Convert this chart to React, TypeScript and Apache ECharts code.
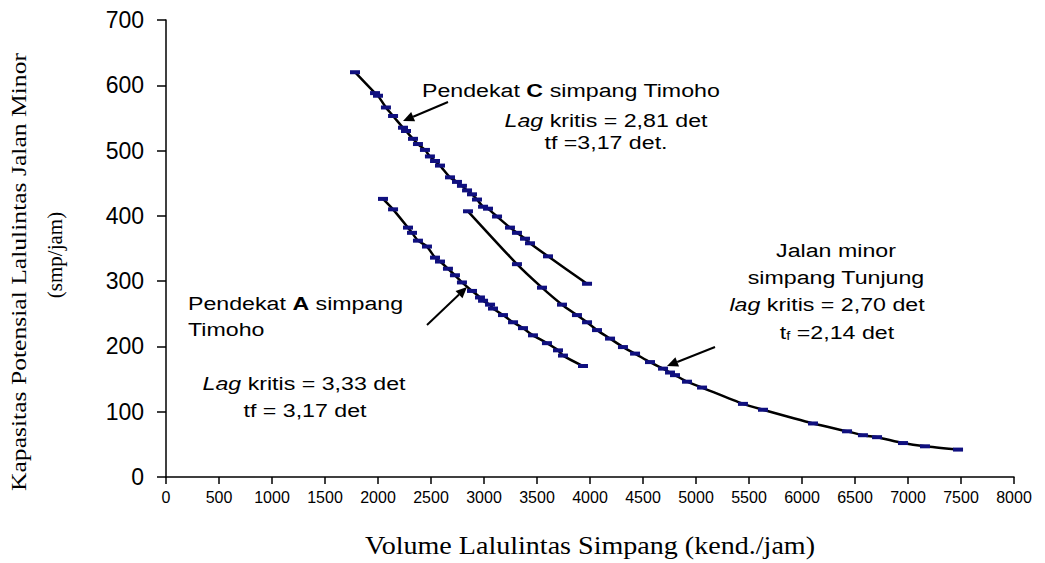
import React, { useEffect, useRef } from "react";
import * as echarts from "echarts";

// Pendekat C simpang Timoho
const cVolume = [1783, 1972, 2000, 2075, 2142, 2236, 2264, 2330, 2377, 2443, 2490, 2538, 2585, 2679, 2745, 2792, 2840, 2887, 2934, 2991, 3038, 3123, 3245, 3311, 3387, 3434, 3604, 3972];
const cCapacity = [620, 588, 584, 566, 553, 535, 530, 518, 510, 501, 491, 484, 477, 459, 452, 446, 439, 433, 425, 414, 411, 399, 382, 374, 365, 358, 338, 296];

// Pendekat A simpang Timoho
const aVolume = [2047, 2142, 2283, 2321, 2377, 2462, 2538, 2585, 2660, 2726, 2792, 2887, 2962, 2991, 3057, 3085, 3179, 3274, 3368, 3462, 3594, 3698, 3745, 3934];
const aCapacity = [426, 410, 382, 374, 362, 353, 336, 330, 319, 309, 298, 285, 275, 270, 264, 258, 248, 237, 228, 217, 205, 194, 186, 170];

// Jalan minor simpang Tunjung
const tVolume = [2849, 3311, 3547, 3736, 3877, 3972, 4066, 4189, 4311, 4425, 4566, 4689, 4755, 4802, 4915, 5057, 5443, 5632, 6104, 6425, 6575, 6708, 6953, 7160, 7472];
const tCapacity = [407, 326, 290, 264, 248, 237, 225, 212, 199, 189, 176, 166, 160, 156, 146, 137, 112, 103, 82, 70, 64, 61, 52, 47, 42];

const xMin = 0, xMax = 8000, xStep = 500;
const yMin = 0, yMax = 700, yStep = 100;

const xTitle = "Volume Lalulintas Simpang (kend./jam)";
const yTitle1 = "Kapasitas Potensial Lalulintas Jalan Minor";
const yTitle2 = "(smp/jam)";

const SANS = "'Liberation Sans', Arial, Helvetica, sans-serif";
const SERIF = "'Liberation Serif', 'Times New Roman', serif";
const MARK = "#10107f";

function zip(x: number[], y: number[]) {
  return x.map((v, i) => [v, y[i]]);
}

function arrow(x1: number, y1: number, x2: number, y2: number) {
  const dx = x2 - x1, dy = y2 - y1;
  const len = Math.sqrt(dx * dx + dy * dy);
  const ux = dx / len, uy = dy / len;
  const hl = 11, hw = 5;
  const bx = x2 - ux * hl, by = y2 - uy * hl;
  return [
    { type: "line", shape: { x1, y1, x2: bx, y2: by }, style: { stroke: "#000", lineWidth: 2 }, z: 10 },
    {
      type: "polygon",
      shape: { points: [[x2, y2], [bx - uy * hw, by + ux * hw], [bx + uy * hw, by - ux * hw]] },
      style: { fill: "#000" },
      z: 10,
    },
  ];
}

const rich = {
  n: { fontFamily: SANS, fontSize: 19, fill: "#000" },
  b: { fontFamily: SANS, fontSize: 19, fontWeight: "bold", fill: "#000" },
  i: { fontFamily: SANS, fontSize: 19, fontStyle: "italic", fill: "#000" },
  s: { fontFamily: SANS, fontSize: 12, fill: "#000", padding: [8, 0, 0, 0] },
};

function label(text: string, x: number, y: number, align = "center") {
  return {
    type: "text",
    x,
    y,
    scaleX: 1.22,
    z: 10,
    style: { text, rich, textAlign: align, textVerticalAlign: "middle", fontFamily: SANS, fontSize: 19, fill: "#000" },
  };
}

export default function App() {
  const ref = useRef<HTMLDivElement>(null);
  useEffect(() => {
    if (!ref.current) return;
    const chart = echarts.init(ref.current, null, { renderer: "svg" });
    const seriesBase = {
      type: "line",
      symbol: "rect",
      symbolSize: [10, 4],
      smooth: 0.2,
      itemStyle: { color: MARK },
      lineStyle: { color: "#000", width: 2.5 },
      emphasis: { disabled: true },
    };
    chart.setOption({
      animation: false,
      backgroundColor: "#fff",
      grid: { left: 166, top: 20, right: 31, bottom: 86, containLabel: false },
      xAxis: {
        type: "value",
        min: xMin,
        max: xMax,
        interval: xStep,
        axisLine: { lineStyle: { color: "#000", width: 1.5 } },
        axisTick: { show: true, length: 7, lineStyle: { color: "#000", width: 1.5 } },
        axisLabel: { color: "#000", fontFamily: SANS, fontSize: 16, margin: 12, formatter: (v: number) => String(v) },
        splitLine: { show: false },
      },
      yAxis: {
        type: "value",
        min: yMin,
        max: yMax,
        interval: yStep,
        axisLine: { show: true, lineStyle: { color: "#000", width: 1.5 } },
        axisTick: { show: true, length: 9, lineStyle: { color: "#000", width: 1.5 } },
        axisLabel: { color: "#000", fontFamily: SANS, fontSize: 23, margin: 22, formatter: (v: number) => String(v) },
        splitLine: { show: false },
      },
      series: [
        { ...seriesBase, name: "Pendekat C simpang Timoho", data: zip(cVolume, cCapacity) },
        { ...seriesBase, name: "Pendekat A simpang Timoho", data: zip(aVolume, aCapacity) },
        { ...seriesBase, name: "Jalan minor simpang Tunjung", data: zip(tVolume, tCapacity) },
      ],
      graphic: [
        {
          type: "text",
          x: 590,
          y: 545,
          scaleX: 1.08,
          style: { text: xTitle, textAlign: "center", textVerticalAlign: "middle", fontFamily: SERIF, fontSize: 26, fill: "#000" },
        },
        {
          type: "text",
          x: 19,
          y: 272,
          rotation: Math.PI / 2,
          scaleX: 1.22,
          style: { text: yTitle1, textAlign: "center", textVerticalAlign: "middle", fontFamily: SERIF, fontSize: 21, fill: "#000" },
        },
        {
          type: "text",
          x: 55,
          y: 255,
          rotation: Math.PI / 2,
          style: { text: yTitle2, textAlign: "center", textVerticalAlign: "middle", fontFamily: SERIF, fontSize: 21, fill: "#000" },
        },
        label("{n|Pendekat }{b|C}{n| simpang Timoho}", 571, 90),
        label("{i|Lag}{n| kritis = 2,81 det}", 606, 120),
        label("{n|tf =3,17 det.}", 606, 142),
        label("{n|Pendekat }{b|A}{n| simpang}", 188, 303, "left"),
        label("{n|Timoho}", 188, 329, "left"),
        label("{i|Lag}{n| kritis = 3,33 det}", 304, 383),
        label("{n|tf = 3,17 det}", 305, 410),
        label("{n|Jalan minor}", 836, 250),
        label("{n|simpang Tunjung}", 836, 277),
        label("{i|lag}{n| kritis = 2,70 det}", 827, 304),
        label("{n|t}{s|f}{n| =2,14 det}", 837, 332),
        ...arrow(448, 102, 403, 121),
        ...arrow(427, 325, 467, 287),
        ...arrow(715, 347, 667, 366),
      ],
    });
    return () => chart.dispose();
  }, []);
  return (
    <div
      ref={ref}
      style={{ position: "absolute", left: 0, top: 0, width: 1045, height: 563, background: "#fff" }}
    />
  );
}
